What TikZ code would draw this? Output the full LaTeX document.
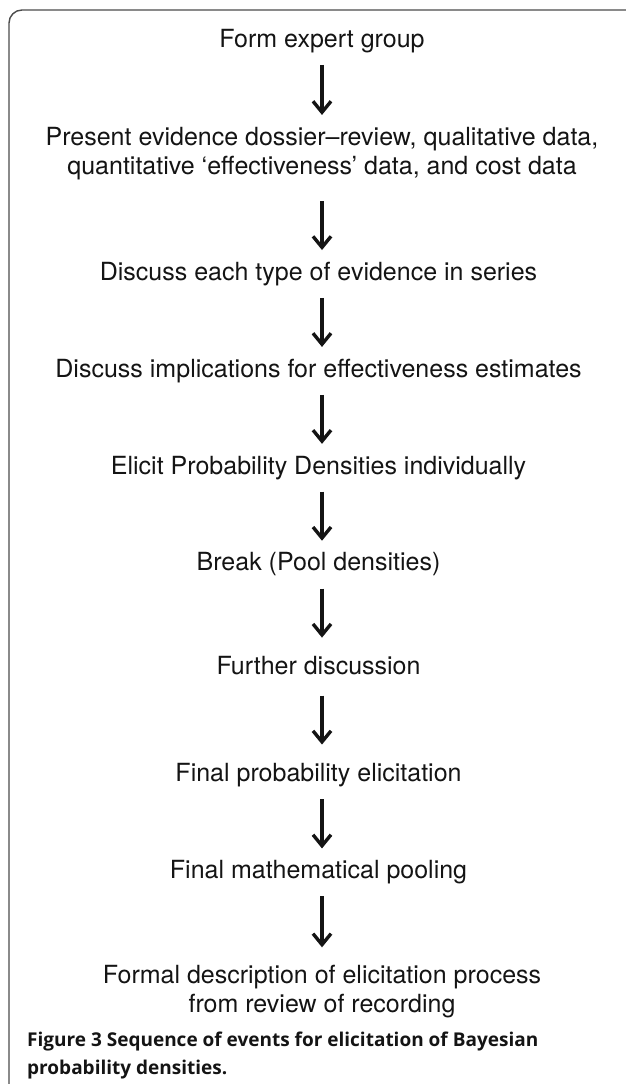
\documentclass[tikz,border=0pt]{standalone}
\usepackage{fontspec}
\setmainfont{TeX Gyre Heros}
\newfontfamily\capfont{Open Sans}
\usetikzlibrary{arrows.meta, positioning}

\begin{document}
\begin{tikzpicture}[
  x=1pt, y=1pt,
  node distance = 49pt,
  stepnode/.style = {
    align=center, inner xsep=0pt, inner ysep=12pt,
    text=black!92,
    font=\fontsize{25pt}{29pt}\selectfont
  },
  oneline/.style = {
    stepnode, text height=18pt, text depth=5.5pt
  },
  arrow/.style = {
    draw=black!92, line width=3.4pt,
    -{Straight Barb[length=11pt, width=18pt, line width=3.4pt]}
  },
  frame/.style = {
    draw=black!70, line width=1.4pt, rounded corners=13pt
  },
  caption/.style = {
    anchor=north west, align=left, inner sep=0pt, text=black!92,
    font=\capfont\bfseries\fontsize{19pt}{28pt}\selectfont
  }
]
\useasboundingbox (0,0) rectangle (625,-1084);

% ====== FRAME ======
\draw[frame] (9,-1100) -- (9,-10) -- (640,-10);

% ====== STEPS ======
\node[oneline] (form) at (322,-41) {Form expert group};

\node[stepnode, below=50pt of form] (dossier) {
  Present evidence dossier--review, qualitative data,\\
  quantitative `effectiveness' data, and cost data
};

\node[oneline, below=of dossier, yshift=-9pt] (series) {
  Discuss each type of evidence in series
};

\node[oneline, below=of series] (implic) {
  Discuss implications for effectiveness estimates
};

\node[oneline, below=of implic] (elicit) {
  Elicit Probability Densities individually
};

\node[oneline, below=of elicit] (pause) {
  Break (Pool densities)
};

\node[oneline, below=of pause, yshift=-7pt] (further) {
  Further discussion
};

\node[oneline, below=of further, yshift=-10pt] (finalelic) {
  Final probability elicitation
};

\node[oneline, below=of finalelic] (pooling) {
  Final mathematical pooling
};

\node[stepnode, below=of pooling, yshift=-8pt] (formal) {
  Formal description of elicitation process\\
  from review of recording
};

% ====== ARROWS ======
\draw[arrow] (form) -- (dossier);
\draw[arrow, shorten <=9pt] (dossier) -- (series);
\draw[arrow] (series) -- (implic);
\draw[arrow] (implic) -- (elicit);
\draw[arrow] (elicit) -- (pause);
\draw[arrow, shorten >=7pt] (pause) -- (further);
\draw[arrow, shorten <=3pt, shorten >=7pt] (further) -- (finalelic);
\draw[arrow] (finalelic) -- (pooling);
\draw[arrow, shorten >=6pt] (pooling) -- (formal);

% ---- caption ----
\node[caption] (figcap) at (27,-1032) {
  Figure 3 Sequence of events for elicitation of Bayesian\\
  probability densities.
};

\end{tikzpicture}
\end{document}
